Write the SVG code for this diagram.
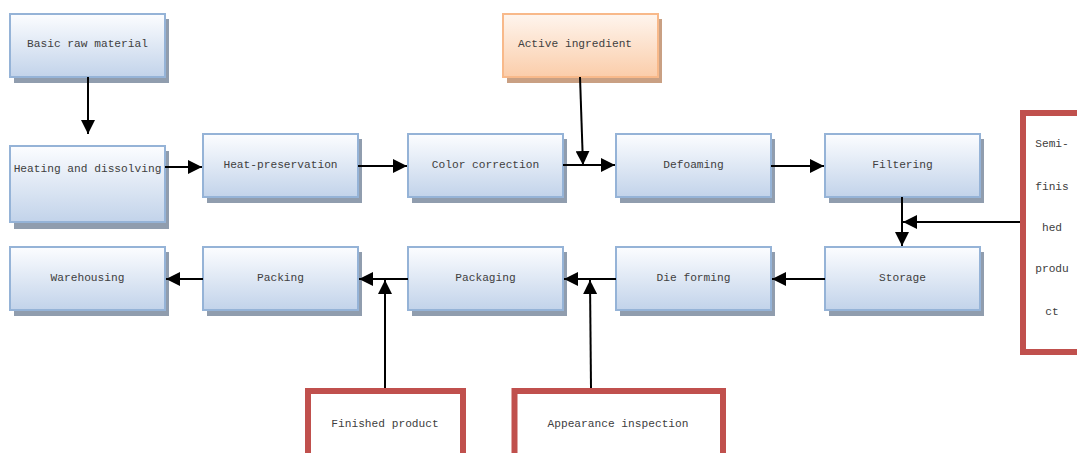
<svg xmlns="http://www.w3.org/2000/svg" width="1077" height="453" viewBox="0 0 1077 453">
  <defs>
    <linearGradient id="gBlue" x1="0" y1="0" x2="0" y2="1">
      <stop offset="0" stop-color="#fcfdff"/>
      <stop offset="1" stop-color="#c2d3ea"/>
    </linearGradient>
    <linearGradient id="gOrange" x1="0" y1="0" x2="0" y2="1">
      <stop offset="0" stop-color="#fef5ee"/>
      <stop offset="1" stop-color="#fbcdaa"/>
    </linearGradient>
    <marker id="arrow" viewBox="0 0 14 14" refX="14" refY="7" markerWidth="14" markerHeight="14" markerUnits="userSpaceOnUse" orient="auto">
      <path d="M0,0 L14,7 L0,14 Z" fill="#000"/>
    </marker>
  </defs>
  <style>
    .shadow { fill: #909dae; }
    .shadowO { fill: #c9a083; }
    .box { fill: url(#gBlue); stroke: #95b3d7; stroke-width: 2; }
    .boxO { fill: url(#gOrange); stroke: #f8b98a; stroke-width: 2; }
    .red { fill: #ffffff; stroke: #c0504d; stroke-width: 6; }
    .lbl { font-family: "Liberation Mono", "DejaVu Sans Mono", monospace; font-size: 11.2px; fill: #404040; text-anchor: middle; }
    .conn { stroke: #000; stroke-width: 2; fill: none; }
  </style>

  <!-- process steps -->
  <g id="basic-raw-material">
    <rect class="shadow" x="14" y="19" width="155" height="64"/>
    <rect class="box" x="10" y="14" width="155" height="63"/>
    <text class="lbl" x="87.5" y="47">Basic raw material</text>
  </g>
  <g id="active-ingredient">
    <rect class="shadowO" x="507" y="19" width="155" height="64"/>
    <rect class="boxO" x="503" y="14" width="155" height="63"/>
    <text class="lbl" x="575" y="47">Active ingredient</text>
  </g>
  <g id="heating-and-dissolving">
    <rect class="shadow" x="14" y="151" width="155" height="78"/>
    <rect class="box" x="10" y="146" width="155" height="76"/>
    <text class="lbl" x="87.5" y="172">Heating and dissolving</text>
  </g>
  <g id="heat-preservation">
    <rect class="shadow" x="207" y="139" width="155" height="64"/>
    <rect class="box" x="203" y="134" width="155" height="63"/>
    <text class="lbl" x="280.5" y="168">Heat-preservation</text>
  </g>
  <g id="color-correction">
    <rect class="shadow" x="412" y="139" width="155" height="64"/>
    <rect class="box" x="408" y="134" width="155" height="63"/>
    <text class="lbl" x="485.5" y="168">Color correction</text>
  </g>
  <g id="defoaming">
    <rect class="shadow" x="620" y="139" width="155" height="64"/>
    <rect class="box" x="616" y="134" width="155" height="63"/>
    <text class="lbl" x="693.5" y="168">Defoaming</text>
  </g>
  <g id="filtering">
    <rect class="shadow" x="829" y="139" width="155" height="64"/>
    <rect class="box" x="825" y="134" width="155" height="63"/>
    <text class="lbl" x="902.5" y="168">Filtering</text>
  </g>
  <g id="storage">
    <rect class="shadow" x="829" y="252" width="155" height="64"/>
    <rect class="box" x="825" y="247" width="155" height="63"/>
    <text class="lbl" x="902.5" y="281">Storage</text>
  </g>
  <g id="die-forming">
    <rect class="shadow" x="620" y="252" width="155" height="64"/>
    <rect class="box" x="616" y="247" width="155" height="63"/>
    <text class="lbl" x="693.5" y="281">Die forming</text>
  </g>
  <g id="packaging">
    <rect class="shadow" x="412" y="252" width="155" height="64"/>
    <rect class="box" x="408" y="247" width="155" height="63"/>
    <text class="lbl" x="485.5" y="281">Packaging</text>
  </g>
  <g id="packing">
    <rect class="shadow" x="207" y="252" width="155" height="64"/>
    <rect class="box" x="203" y="247" width="155" height="63"/>
    <text class="lbl" x="280.5" y="281">Packing</text>
  </g>
  <g id="warehousing">
    <rect class="shadow" x="14" y="252" width="155" height="64"/>
    <rect class="box" x="10" y="247" width="155" height="63"/>
    <text class="lbl" x="87.5" y="281">Warehousing</text>
  </g>

  <!-- side inputs -->
  <g id="semi-finished-product">
    <rect class="red" x="1023" y="113" width="70" height="239"/>
    <text class="lbl" x="1052" y="147">Semi-</text>
    <text class="lbl" x="1052" y="190">finis</text>
    <text class="lbl" x="1052" y="231">hed</text>
    <text class="lbl" x="1052" y="272">produ</text>
    <text class="lbl" x="1052" y="315">ct</text>
  </g>
  <g id="finished-product">
    <rect class="red" x="308" y="391" width="155" height="80"/>
    <text class="lbl" x="385" y="427">Finished product</text>
  </g>
  <g id="appearance-inspection">
    <rect class="red" x="514.5" y="391" width="208.5" height="80"/>
    <text class="lbl" x="618" y="427">Appearance inspection</text>
  </g>

  <!-- connectors -->
  <g id="connectors">
    <line class="conn" x1="88" y1="77" x2="88" y2="134" marker-end="url(#arrow)"/>
    <line class="conn" x1="165" y1="167" x2="202" y2="167" marker-end="url(#arrow)"/>
    <line class="conn" x1="358" y1="166" x2="407" y2="166" marker-end="url(#arrow)"/>
    <line class="conn" x1="563" y1="165" x2="615" y2="165" marker-end="url(#arrow)"/>
    <line class="conn" x1="580" y1="77" x2="583" y2="165" marker-end="url(#arrow)"/>
    <line class="conn" x1="771" y1="166" x2="824" y2="166" marker-end="url(#arrow)"/>
    <line class="conn" x1="902" y1="197" x2="902" y2="246" marker-end="url(#arrow)"/>
    <line class="conn" x1="1020" y1="222" x2="903" y2="222" marker-end="url(#arrow)"/>
    <line class="conn" x1="825" y1="279" x2="772" y2="279" marker-end="url(#arrow)"/>
    <line class="conn" x1="616" y1="279" x2="564" y2="279" marker-end="url(#arrow)"/>
    <line class="conn" x1="591" y1="388" x2="590" y2="280" marker-end="url(#arrow)"/>
    <line class="conn" x1="408" y1="279" x2="359" y2="279" marker-end="url(#arrow)"/>
    <line class="conn" x1="385" y1="388" x2="385" y2="280" marker-end="url(#arrow)"/>
    <line class="conn" x1="203" y1="279" x2="166" y2="279" marker-end="url(#arrow)"/>
  </g>
</svg>
